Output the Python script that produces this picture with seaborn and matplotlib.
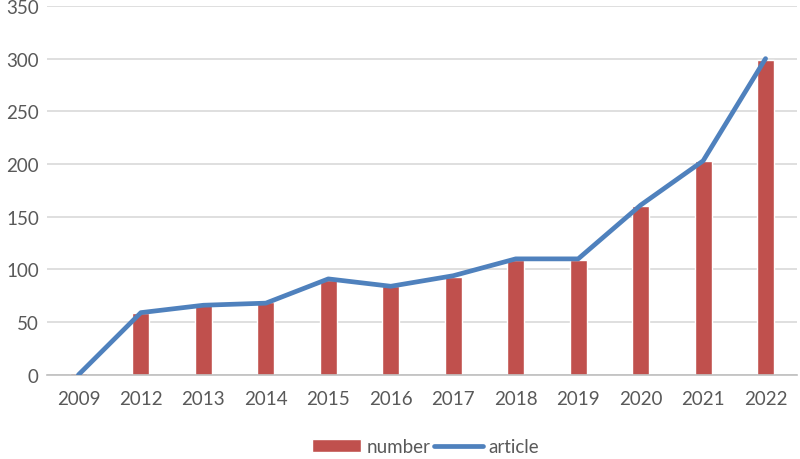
import matplotlib
matplotlib.use("Agg")
import matplotlib.pyplot as plt
import seaborn as sns
import pandas as pd
from matplotlib.ticker import FixedLocator

# data
years = ["2009", "2012", "2013", "2014", "2015", "2016", "2017", "2018", "2019", "2020", "2021", "2022"]
number = [2, 59, 66, 69, 90, 84, 93, 109, 109, 160, 203, 299]
article = [0, 59, 66, 68, 91, 84, 94, 110, 110, 161, 203, 300]

df = pd.DataFrame({"year": years, "number": number, "article": article})

sns.set_style("white")
plt.rcParams["font.family"] = ["Lato", "DejaVu Sans"]

text_col = "#595959"
grid_col = "#d9d9d9"
axis_col = "#bfbfbf"
fs = 13.5

fig = plt.figure(figsize=(8, 4.6), dpi=100)
ax = fig.add_axes([0.059, 0.183, 0.937, 0.802])

sns.barplot(data=df, x="year", y="number", color="#C0504D", width=0.27,
            saturation=1, ax=ax, label="number", zorder=2)
sns.lineplot(data=df, x="year", y="article", color="#4F81BD", linewidth=3.4,
             sort=False, ax=ax, label="article", zorder=3)

ax.set_xlim(-0.5, len(years) - 0.5)
ax.set_ylim(0, 350)
ax.set_yticks(range(0, 351, 50))
ax.yaxis.grid(True, color=grid_col, linewidth=1.2, zorder=0)
ax.set_axisbelow(True)
ax.set_xlabel("")
ax.set_ylabel("")

for s in ["top", "right", "left"]:
    ax.spines[s].set_visible(False)
ax.spines["bottom"].set_color(axis_col)
ax.spines["bottom"].set_linewidth(1.2)

ax.tick_params(axis="x", which="major", length=0, pad=11, labelsize=fs, labelcolor=text_col)
ax.xaxis.set_minor_locator(FixedLocator([i - 0.5 for i in range(len(years) + 1)]))
ax.tick_params(axis="x", which="minor", length=6, width=1.2, color=axis_col, direction="out")
ax.tick_params(axis="y", length=0, pad=6, labelsize=fs, labelcolor=text_col)

handles, labels = ax.get_legend_handles_labels()
order = [labels.index("number"), labels.index("article")]
ax.legend([handles[i] for i in order], [labels[i] for i in order],
          loc="center", bbox_to_anchor=(0.505, -0.195), ncol=2, frameon=False,
          fontsize=fs, labelcolor=text_col, handlelength=2.6,
          handletextpad=0.3, columnspacing=0.2, borderpad=0.2)

fig.savefig("out.png", dpi=100)
